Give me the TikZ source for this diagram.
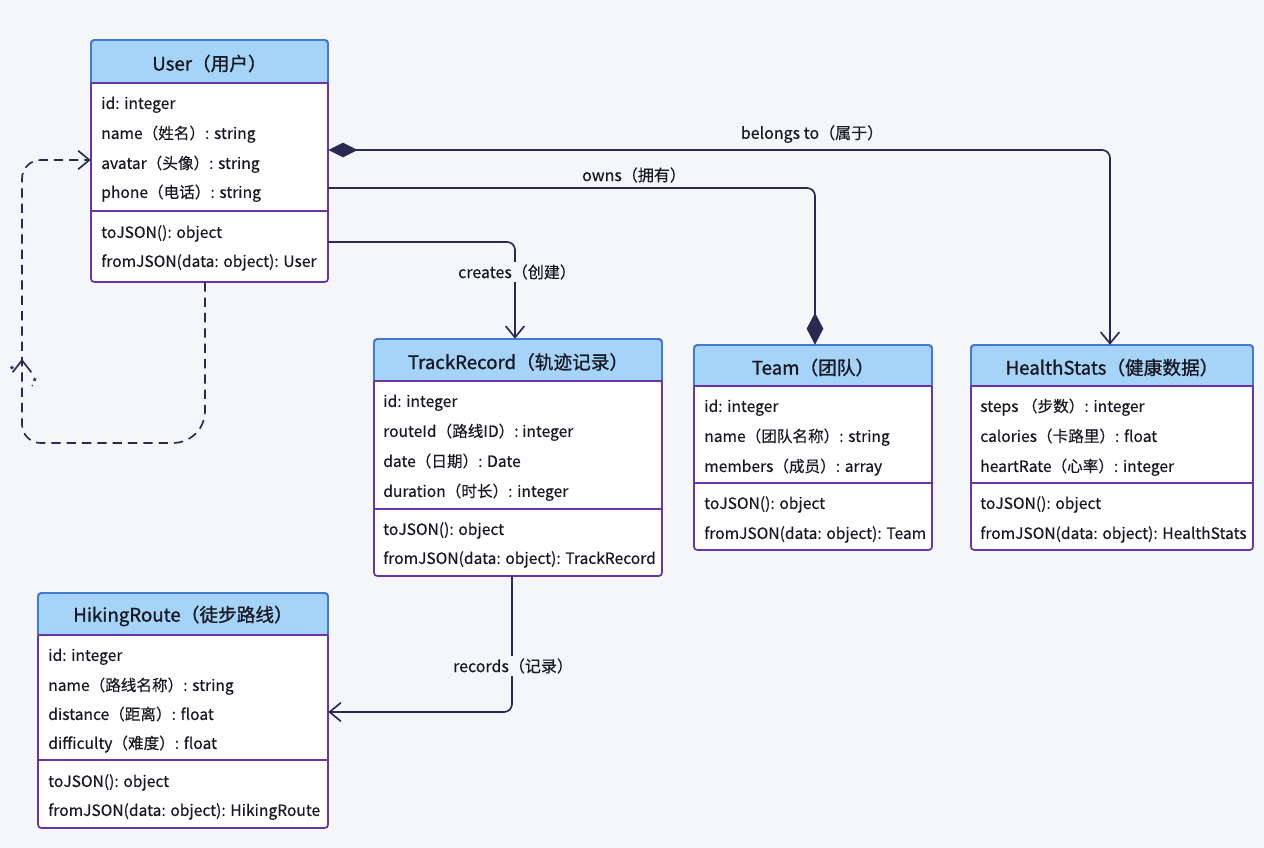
\documentclass[tikz,border=0pt]{standalone}
\usepackage{fontspec}
\setmainfont{Noto Sans CJK SC}[FakeBold=0.35]
\newfontfamily\ttlfont{Noto Sans CJK SC}[FakeBold=1.0]
\usetikzlibrary{arrows.meta,fit,decorations.markings}
\definecolor{bgc}{RGB}{244,246,250}
\definecolor{hdr}{RGB}{166,212,248}
\definecolor{bbord}{RGB}{62,122,214}
\definecolor{pbord}{RGB}{104,52,172}
\definecolor{lnc}{RGB}{40,42,82}
\definecolor{txt}{RGB}{24,24,34}
\tikzset{
  attr/.style={anchor=mid west, inner sep=0pt, yshift=-2.5pt, font=\fontsize{11.7}{14}\selectfont, text=txt},
  ttl/.style={inner sep=0pt, yshift=-1.5pt, font=\fontsize{14}{17}\selectfont\ttlfont, text=txt},
  conn/.style={draw=lnc, line width=1.25pt},
  lbl/.style={font=\fontsize{12}{14}\selectfont, text=txt, fill=bgc, inner sep=2pt},
  opentip/.style={-{Straight Barb[length=8.5pt,width=14pt,line width=1.25pt]}},
  star/.style={font=\fontsize{8}{9}\selectfont, text=lnc, inner sep=0pt},
}
\newcommand\umlbox[8]{%
  \fill[white, rounded corners=2.5pt] (#2,#3) rectangle (#4,#7);
  \begin{scope}
    \clip[rounded corners=2.5pt] (#2,#3) rectangle (#4,#7);
    \fill[hdr] (#2,#3) rectangle (#4,#5);
  \end{scope}
  \draw[pbord, line width=1.3pt, rounded corners=2.5pt] (#2,#3) rectangle (#4,#7);
  \begin{scope}
    \clip (#2-5,#3-5) rectangle (#4+5,#5);
    \draw[bbord, line width=1.3pt, rounded corners=2.5pt] (#2,#3) rectangle (#4,#7);
  \end{scope}
  \draw[pbord, line width=1.3pt] (#2,#5) -- (#4,#5);
  \draw[pbord, line width=1.3pt] (#2,#6) -- (#4,#6);
  \node[fit={(#2,#3)(#4,#7)}, inner sep=0pt] (#1) {};
  \node[ttl] (#1-t) at ({(#2+#4)/2},{(#3+#5)/2}) {#8};
}
\begin{document}
\begin{tikzpicture}[x=0.75pt,y=-0.75pt]
\fill[bgc] (0,0) rectangle (1264,848);
\useasboundingbox (0,0) rectangle (1264,848);

% User
\umlbox{user}{91}{40}{328}{83}{211}{282}{User（用户）}
\node[attr] (u1) at (101,102) {id: integer};
\node[attr] (u2) at (101,132) {name（姓名）: string};
\node[attr] (u3) at (101,162) {avatar（头像）: string};
\node[attr] (u4) at (101,191) {phone（电话）: string};
\node[attr] (u5) at (101,231) {toJSON(): object};
\node[attr] (u6) at (101,260) {fromJSON(data: object): User};

% TrackRecord
\umlbox{tr}{374}{339}{662}{381}{509}{576}{TrackRecord（轨迹记录）}
\node[attr] (t1) at (383,400) {id: integer};
\node[attr] (t2) at (383,430) {routeId（路线ID）: integer};
\node[attr] (t3) at (383,460) {date（日期）: Date};
\node[attr] (t4) at (383,490) {duration（时长）: integer};
\node[attr] (t5) at (383,528) {toJSON(): object};
\node[attr] (t6) at (383,557) {fromJSON(data: object): TrackRecord};

% Team
\umlbox{team}{694}{345}{932}{386}{483}{550}{Team（团队）}
\node[attr] (m1) at (704,405) {id: integer};
\node[attr] (m2) at (704,435) {name（团队名称）: string};
\node[attr] (m3) at (704,465) {members（成员）: array};
\node[attr] (m4) at (704,502) {toJSON(): object};
\node[attr] (m5) at (704,532) {fromJSON(data: object): Team};

% HealthStats
\umlbox{hs}{971}{345}{1253}{386}{483}{550}{HealthStats（健康数据）}
\node[attr] (h1) at (980,405) {steps （步数）: integer};
\node[attr] (h2) at (980,435) {calories（卡路里）: float};
\node[attr] (h3) at (980,465) {heartRate（心率）: integer};
\node[attr] (h4) at (980,502) {toJSON(): object};
\node[attr] (h5) at (980,532) {fromJSON(data: object): HealthStats};

% HikingRoute
\umlbox{hr}{38}{593}{328}{635}{760}{828}{HikingRoute（徒步路线）}
\node[attr] (r1) at (48,654) {id: integer};
\node[attr] (r2) at (48,684) {name（路线名称）: string};
\node[attr] (r3) at (48,713) {distance（距离）: float};
\node[attr] (r4) at (48,742) {difficulty（难度）: float};
\node[attr] (r5) at (48,780) {toJSON(): object};
\node[attr] (r6) at (48,809) {fromJSON(data: object): HikingRoute};

% routing coordinates
\coordinate (bA) at (1110,150);
\coordinate (oA) at (815,188);
\coordinate (cA) at (515,242);
\coordinate (rA) at (512,712);
\coordinate (sA) at (205,443);
\coordinate (sB) at (22,443);
\coordinate (sC) at (22,160);

% belongs to
\draw[conn, {Diamond[length=22pt,width=11pt]}-{Straight Barb[length=8.5pt,width=14pt,line width=1.25pt]}, rounded corners=6pt]
  (user.east |- bA) -- (bA) -- (hs.north -| bA);
\node[lbl, fill=none] (lb) at (812,134) {belongs to（属于）};

% owns
\draw[conn, -{Diamond[length=24pt,width=12.5pt]}, rounded corners=6pt]
  (user.east |- oA) -- (oA) -- (team.north -| oA);
\node[lbl, fill=none] (lo) at (634,175) {owns（拥有）};

% creates
\draw[conn, opentip, rounded corners=6pt]
  (user.east |- cA) -- (cA) -- (tr.north -| cA);
\node[lbl] (lc) at (517,272) {creates（创建）};

% records
\draw[conn, opentip, rounded corners=6pt]
  (tr.south -| rA) -- (rA) -- (hr.east |- rA);
\node[lbl] (lr) at (513,666) {records（记录）};

% self association
\draw[conn, dash pattern=on 7pt off 4.5pt, opentip,
      postaction={decorate, decoration={markings,
        mark=at position 0.61 with {\arrow[solid]{Straight Barb[length=9pt,width=14pt,line width=1.25pt]}}}}]
  (user.south -| sA) [rounded corners=24pt] -- (sA) [rounded corners=14pt] -- (sB) -- (sC) [sharp corners] -- (user.west |- sC);
\node[star] (st1) at (12,370) {*};
\node[star] (st2) at (34,382) {.*};
\end{tikzpicture}
\end{document}
